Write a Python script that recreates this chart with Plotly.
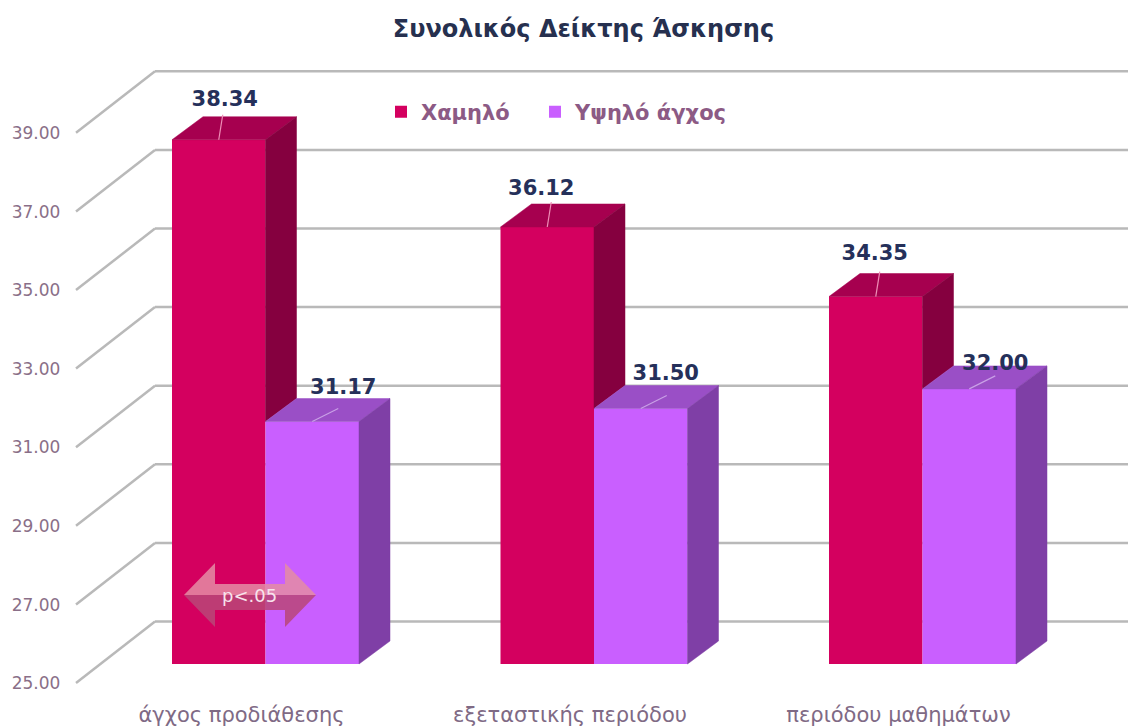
import plotly.graph_objects as go

categories = ['άγχος προδιάθεσης', 'εξεταστικής περιόδου', 'περιόδου μαθημάτων']
low_stress = [38.34, 36.12, 34.35]
high_stress = [31.17, 31.50, 32.00]
y_ticks = [25, 27, 29, 31, 33, 35, 37, 39]
positions = [0, 1, 2]

# picture geometry, screen pixels (the page body adds an 8px margin)
W, H = 1136, 727
OFF = 8
PX_X = 328.5        # one category
PX_Y = 39.3         # one value unit
X0_PX = 265.5       # pixel of first group centre
Y0_PX = 664         # pixel of the value 25 on the bar front
BASE = 25
BAR_W = 93.5 / PX_X
DX = 31 / PX_X      # bar depth
DY = 23 / PX_Y
BOTTOM_PX = 700


def xp(px):
    return (px - X0_PX) / PX_X


def yp(px):
    return BASE + (Y0_PX - px) / PX_Y


def dy(px):
    return px / PX_Y


RED, RED_TOP, RED_SIDE = '#d4005f', '#a6004f', '#85003f'
PUR, PUR_TOP, PUR_SIDE = '#c95fff', '#9a4fc6', '#7f3fa6'
GRID = '#b9b9b9'
FONT = 'DejaVu Sans'


def faces(values, floors, x_left):
    top_x, top_y, side_x, side_y = [], [], [], []
    for p, v, f in zip(positions, values, floors):
        l = p + x_left
        r = l + BAR_W
        top_x += [l, r, r + DX, l + DX, l, None]
        top_y += [v, v, v + DY, v + DY, v, None]
        side_x += [r, r + DX, r + DX, r, r, None]
        side_y += [f, f + DY, v + DY, v, f, None]
    return top_x, top_y, side_x, side_y


def poly(x, y, color):
    return go.Scatter(x=x, y=y, mode='lines', fill='toself', fillcolor=color,
                      line=dict(color=color, width=0.5), showlegend=False,
                      hoverinfo='skip')


fig = go.Figure()
fig.add_trace(go.Bar(x=positions, y=[v - BASE for v in low_stress], base=BASE,
                     width=BAR_W, offset=-BAR_W, marker=dict(color=RED, line_width=0),
                     name='Χαμηλό', legend='legend'))
fig.add_trace(go.Bar(x=positions, y=[v - BASE for v in high_stress], base=BASE,
                     width=BAR_W, offset=0, marker=dict(color=PUR, line_width=0),
                     name='Υψηλό άγχος', legend='legend2'))

# the red side stops where the purple bar stands in front of it
tx, ty, sx, sy = faces(low_stress, high_stress, -BAR_W)
fig.add_trace(poly(tx, ty, RED_TOP))
fig.add_trace(poly(sx, sy, RED_SIDE))
tx, ty, sx, sy = faces(high_stress, [BASE] * 3, 0)
fig.add_trace(poly(tx, ty, PUR_TOP))
fig.add_trace(poly(sx, sy, PUR_SIDE))

# leader lines from the labels
lead_x, lead_y = [], []
for p, v in zip(positions, low_stress):
    c = p - BAR_W / 2
    lead_x += [c, c + 4 / PX_X, None]
    lead_y += [v, v + dy(25), None]
fig.add_trace(go.Scatter(x=lead_x, y=lead_y, mode='lines', showlegend=False, hoverinfo='skip',
                         line=dict(color='#ef8fb8', width=1.2)))
lead_x, lead_y = [], []
for p, v in zip(positions, high_stress):
    c = p + BAR_W / 2
    lead_x += [c, c + 26 / PX_X, None]
    lead_y += [v, v + dy(13), None]
fig.add_trace(go.Scatter(x=lead_x, y=lead_y, mode='lines', showlegend=False, hoverinfo='skip',
                         line=dict(color='#c9a0e6', width=1.2)))

# data labels
nudge_low = [(6, 39), (-6, 37), (-1, 42)]
nudge_high = [(31, 33), (25, 34), (26, 24)]
for values, side, nudge in ((low_stress, -BAR_W / 2, nudge_low), (high_stress, BAR_W / 2, nudge_high)):
    fig.add_trace(go.Scatter(
        x=[p + side + n[0] / PX_X for p, n in zip(positions, nudge)],
        y=[v + dy(n[1]) for v, n in zip(values, nudge)],
        mode='text', text=['%.2f' % v for v in values], showlegend=False, hoverinfo='skip',
        textfont=dict(family=FONT, size=21, color='#25305a', weight='bold')))

# value labels at the front of the wall
fig.add_trace(go.Scatter(
    x=[xp(36)] * len(y_ticks), y=[t - dy(21) for t in y_ticks], mode='text',
    text=['%.2f' % t for t in y_ticks], showlegend=False, hoverinfo='skip',
    textfont=dict(family=FONT, size=17, color='#8a6f88')))

# wall lines
shapes = []
for t in y_ticks:
    back = t + dy(42.5)
    shapes.append(dict(type='line', xref='x', yref='y', layer='below',
                       x0=xp(76), y0=t - dy(19), x1=xp(155), y1=back,
                       line=dict(color=GRID, width=2.5)))
    shapes.append(dict(type='line', xref='x', yref='y', layer='below',
                       x0=xp(155), y0=back, x1=xp(W), y1=back,
                       line=dict(color=GRID, width=2.5)))


# p<.05 double arrow
def path(points):
    return 'M ' + ' L '.join('%.4f %.4f' % (xp(a), yp(b)) for a, b in points) + ' Z'


arrow_top = [(184, 595), (215, 563), (215, 584), (285, 584), (285, 563), (316, 595)]
arrow_bottom = [(184, 595), (215, 627), (215, 610), (285, 610), (285, 627), (316, 595)]
shapes.append(dict(type='path', xref='x', yref='y', path=path(arrow_top),
                   fillcolor='rgba(228,140,165,0.85)', line=dict(width=0), layer='above'))
shapes.append(dict(type='path', xref='x', yref='y', path=path(arrow_bottom),
                   fillcolor='rgba(185,70,120,0.85)', line=dict(width=0), layer='above'))

legend_style = dict(orientation='h', xanchor='left', yanchor='middle',
                    y=1 - (112 - OFF) / (BOTTOM_PX - OFF), bgcolor='rgba(0,0,0,0)',
                    font=dict(family=FONT, size=21, color='#8c5a85', weight='bold'))

fig.update_layout(
    width=W - OFF, height=H - OFF,
    margin=dict(l=0, r=0, t=0, b=H - BOTTOM_PX, autoexpand=False),
    paper_bgcolor='white', plot_bgcolor='white',
    barmode='overlay', shapes=shapes,
    title=dict(text='Συνολικός Δείκτης Άσκησης', x=(583.5 - OFF) / (W - OFF),
               y=1 - (29 - OFF) / (H - OFF), xanchor='center', yanchor='middle',
               font=dict(family=FONT, size=24, color='#26304f', weight='bold')),
    xaxis=dict(range=[xp(OFF), xp(W)], tickvals=[p - 24 / PX_X for p in positions],
               ticktext=categories, showgrid=False, zeroline=False, showline=False, ticklen=0,
               tickfont=dict(family=FONT, size=21, color='#7f6a85')),
    yaxis=dict(range=[yp(BOTTOM_PX), yp(OFF)],
               showticklabels=False, showgrid=False, zeroline=False, showline=False, ticklen=0),
    legend=dict(x=(381 - OFF) / (W - OFF), **legend_style),
    legend2=dict(x=(535 - OFF) / (W - OFF), **legend_style),
    annotations=[dict(x=xp(249), y=yp(595), xref='x', yref='y', text='p<.05',
                      showarrow=False, font=dict(family=FONT, size=18, color='#f7e3ec'))],
    hovermode=False,
)

fig.write_html("out.html")
